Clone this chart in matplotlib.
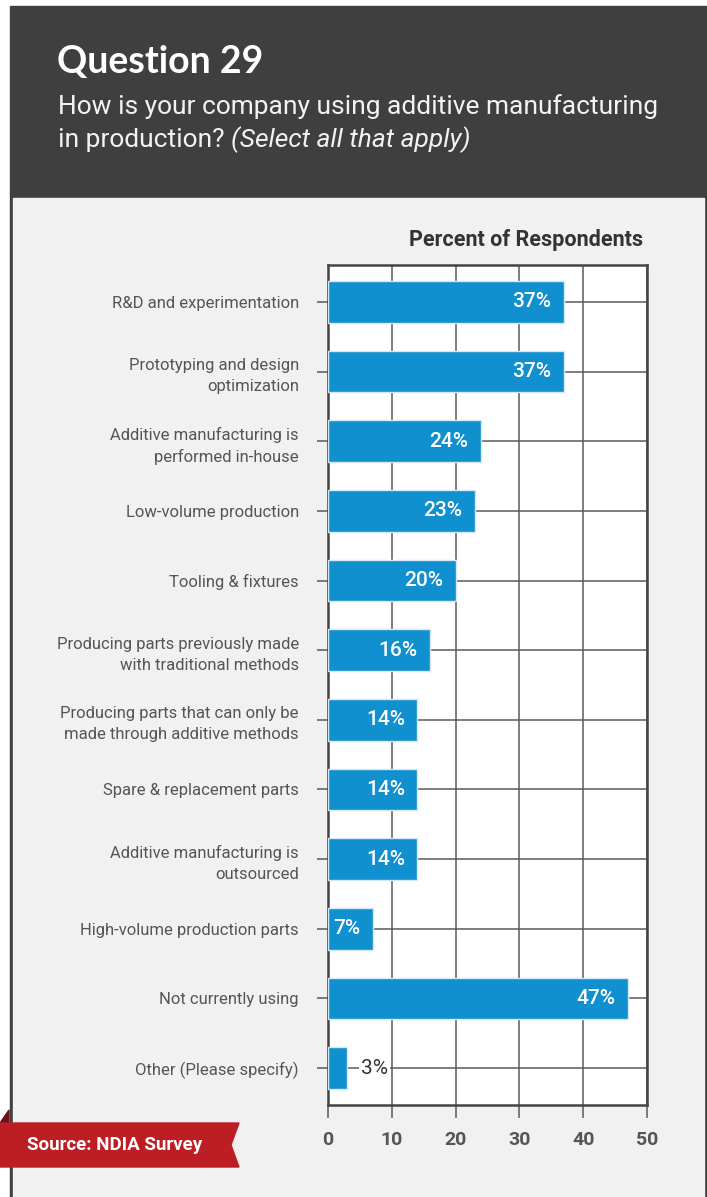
import matplotlib.pyplot as plt
from matplotlib.patches import Rectangle, Polygon
from matplotlib.text import Annotation

# данные опроса (вопрос 29)
categories = [
    'R&D and experimentation',
    'Prototyping and design\noptimization',
    'Additive manufacturing is\nperformed in-house',
    'Low-volume production',
    'Tooling & fixtures',
    'Producing parts previously made\nwith traditional methods',
    'Producing parts that can only be\nmade through additive methods',
    'Spare & replacement parts',
    'Additive manufacturing is\noutsourced',
    'High-volume production parts',
    'Not currently using',
    'Other (Please specify)',
]
values = [37, 37, 24, 23, 20, 16, 14, 14, 14, 7, 47, 3]
x_ticks = [0, 10, 20, 30, 40, 50]

W, H = 707, 1197
BLUE = '#1190cf'
GRID = '#5a5a5a'
LABEL = '#555555'

plt.rcParams['font.family'] = ['Roboto', 'DejaVu Sans']


def fx(px):
    return px / W


def fy(py):
    return 1 - py / H


fig = plt.figure(figsize=(W / 100, H / 100), dpi=100)
fig.patch.set_facecolor('white')

# рамка, шапка и серая подложка
fig.patches.append(Rectangle((fx(10), fy(H)), fx(697), (H - 6) / H,
                             transform=fig.transFigure, color='#3f3f3f', zorder=-2))
fig.patches.append(Rectangle((fx(12.5), fy(H)), fx(691), (H - 198) / H,
                             transform=fig.transFigure, color='#f0f1f0', zorder=-1))

fig.text(fx(57), fy(62), 'Question 29', color='white', fontsize=27,
         fontweight='bold', family=['Lato', 'DejaVu Sans'], va='center')
fig.text(fx(58), fy(107), 'How is your company using additive manufacturing',
         color='#f2f2f2', fontsize=19, va='center')
t2 = fig.text(fx(58), fy(140), 'in production? ', color='#f2f2f2',
              fontsize=19, va='center')
fig.add_artist(Annotation('(Select all that apply)', xy=(1, 0.5), xycoords=t2,
                          va='center', ha='left', color='#f2f2f2',
                          fontsize=19, style='italic'))

# область графика
ax = fig.add_axes([fx(328), fy(1105), fx(647) - fx(328), (1105 - 265) / H])
ax.set_facecolor('white')
y = list(range(len(categories)))
ax.barh(y, values, height=0.6, color=BLUE, edgecolor='#d4e9f5',
        linewidth=1, zorder=3)

ax.set_xlim(0, 50)
ax.set_ylim(len(categories) - 0.47, -0.53)
ax.set_xticks(x_ticks)
ax.set_yticks(y)
ax.set_yticklabels(categories, fontsize=12, color=LABEL, linespacing=1.5)
ax.grid(True, color=GRID, linewidth=1.1, zorder=1)
ax.set_axisbelow(True)
ax.tick_params(axis='y', length=8, width=1.1, color=GRID, pad=13)
ax.tick_params(axis='x', length=9, width=1.1, color=GRID, pad=10,
               labelsize=14, labelcolor=LABEL)
for lbl in ax.get_xticklabels():
    lbl.set_fontweight('bold')
for s in ax.spines.values():
    s.set_color('#444444')
    s.set_linewidth(1.8)

# подписи значений
for yi, v in zip(y, values):
    if v >= 5:
        ax.annotate(f'{v}%', xy=(v, yi), xytext=(-9, 0),
                    textcoords='offset points', ha='right', va='center',
                    color='white', fontsize=15, fontweight='medium', zorder=4)
    else:
        ax.annotate(f'{v}%', xy=(v, yi), xytext=(10, 0),
                    textcoords='offset points', ha='left', va='center',
                    color='#333333', fontsize=15, zorder=4,
                    bbox=dict(boxstyle='square,pad=0.1', fc='white', ec='none'))

fig.text(fx(643), fy(240), 'Percent of Respondents', ha='right', va='center',
         fontsize=15.5, fontweight='bold', color='#333333')

# красная плашка с источником
fig.patches.append(Polygon([(fx(0), fy(1123)), (fx(9), fy(1110)), (fx(9), fy(1123))],
                           closed=True, transform=fig.transFigure,
                           color='#6e1015', zorder=2))
fig.patches.append(Polygon([(fx(0), fy(1123)), (fx(239), fy(1123)),
                            (fx(231), fy(1145)), (fx(239), fy(1167)),
                            (fx(0), fy(1167))],
                           closed=True, transform=fig.transFigure,
                           color='#bd1e24', zorder=2))
fig.text(fx(115), fy(1145), 'Source: NDIA Survey', ha='center', va='center',
         color='white', fontsize=13.5, fontweight='bold', zorder=3)

fig.savefig('out.png', dpi=100)
